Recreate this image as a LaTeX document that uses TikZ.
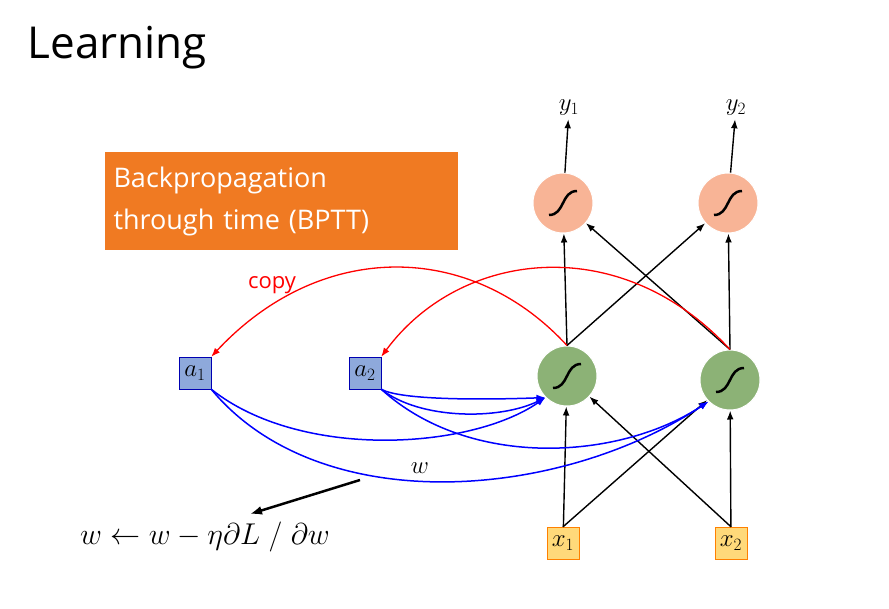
\documentclass[tikz,border=0pt]{standalone}
\usepackage{amsmath,amssymb}
\usepackage{fontspec}
\setmainfont{Open Sans}
\usetikzlibrary{arrows.meta,positioning}
\definecolor{boxorange}{RGB}{240,122,34}
\definecolor{outfill}{RGB}{248,180,150}
\definecolor{hidfill}{RGB}{140,178,118}
\definecolor{inbox}{RGB}{255,217,122}
\definecolor{mbox}{RGB}{142,169,219}
\tikzset{
  neuron/.style={circle,minimum size=60pt,inner sep=0pt,draw=white,line width=1pt},
  sig/.pic={\draw[line width=2.5pt] (-14,12) .. controls (2,12) and (-2,-12) .. (14,-12);},
  inp/.style={draw=orange,fill=inbox,minimum size=32pt,inner sep=1pt,font=\fontsize{24}{24}\selectfont},
  mem/.style={draw=blue!70!black,fill=mbox,minimum size=32pt,inner sep=1pt,font=\fontsize{24}{24}\selectfont},
  fw/.style={-{Latex[length=9pt]},line width=1.4pt},
  cp/.style={-{Latex[length=9pt]},red,line width=1.3pt},
  bw/.style={-{Latex[length=9pt]},blue,line width=1.5pt}
}
\begin{document}
\begin{tikzpicture}[x=1pt,y=-1pt]
\useasboundingbox (0,0) rectangle (889,608);
\fill[white] (0,0) rectangle (889,608);
% title
\node[anchor=west,font=\fontsize{44}{44}\selectfont] (title) at (24,48) {Learning};
\node[fill=boxorange,minimum width=353pt,minimum height=98pt,text=white,align=left,
  text width=335pt,font=\fontsize{27}{42}\selectfont] (bptt) at (281,201) {Backpropagation\\through time (BPTT)};
% outputs
\node[neuron,fill=outfill] (o1) at (563,203) {};
\node[neuron,fill=outfill] (o2) at (728,203) {};
\pic at (o1) {sig};
\pic at (o2) {sig};
\node[font=\fontsize{26}{26}\selectfont] (y1) at (569,108) {$y_1$};
\node[font=\fontsize{26}{26}\selectfont] (y2) at (736,108) {$y_2$};
% hidden
\node[neuron,fill=hidfill] (h1) at (567,376) {};
\node[neuron,fill=hidfill] (h2) at (730,380) {};
\pic at (h1) {sig};
\pic at (h2) {sig};
% inputs and memory
\node[inp] (x1) at (563,543) {$x_1$};
\node[inp] (x2) at (731,543) {$x_2$};
\node[mem] (a1) at (195,373) {$a_1$};
\node[mem] (a2) at (365,373) {$a_2$};
% forward
\draw[fw] (o1) -- (y1);
\draw[fw] (o2) -- (y2);
\draw[fw] (x1) -- (h1);
\draw[fw] (x1.north) -- (h2);
\draw[fw] (x2.north) -- (h1);
\draw[fw] (x2) -- (h2);
\draw[fw] (h1.north) -- (o1);
\draw[fw] (h1.north) -- (o2);
\draw[fw] (h2.north) -- (o1);
\draw[fw] (h2.north) -- (o2);
% copy
\draw[cp] (h1.north) .. controls (470,240) and (320,240) .. (a1.north east);
\draw[cp] (h2.north) .. controls (620,230) and (460,250) .. (a2.north east);
\node[red,font=\fontsize{22}{22}\selectfont] (copy) at (272,285) {copy};
% recurrent weights
\draw[bw] (a1.south east) .. controls (300,460) and (470,450) .. (h1.south west);
\draw[bw] (a1.south east) .. controls (320,520) and (560,500) .. (h2.south west);
\draw[bw] (a2.south east) .. controls (420,420) and (500,420) .. (h1.south west);
\draw[bw] (a2.south east) .. controls (400,400) and (480,400) .. (h1.south west);
\draw[bw] (a2.south east) .. controls (470,470) and (620,460) .. (h2.south west);
\node[font=\fontsize{26}{26}\selectfont] (w) at (420,468) {$w$};
\coordinate (wtail) at (360,480);
\node[scale=1.45,font=\fontsize{20}{20}\selectfont] (upd) at (205,537) {$w \leftarrow w - \eta\partial L \;/\; \partial w$};
\draw[-{Latex[length=12pt]},line width=2.5pt] (wtail) -- (250,514);
\end{tikzpicture}
\end{document}
